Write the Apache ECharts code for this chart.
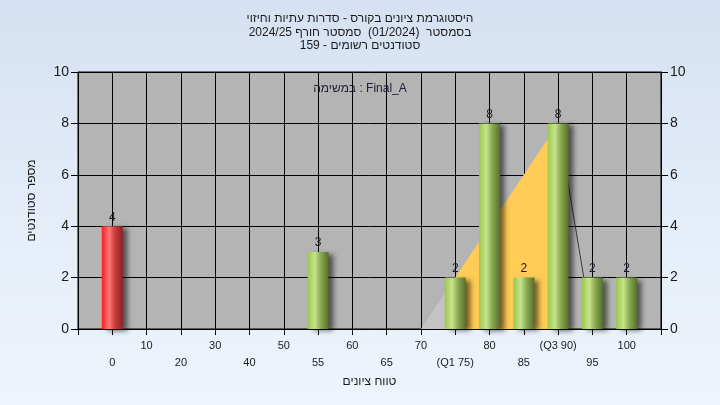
<!DOCTYPE html>
<html><head><meta charset="utf-8">
<script src="https://cdn.jsdelivr.net/npm/echarts@6/dist/echarts.min.js"></script>
<style>
html,body{margin:0;padding:0;width:720px;height:405px;overflow:hidden;}
body{background:linear-gradient(to bottom,#d5e1f2 0%,#e6eef9 60%,#edf4fc 100%);}
#c{width:720px;height:405px;}
</style></head>
<body><div id="c"></div>
<script>
// ---- data ----
var titleLines = ['היסטוגרמת ציונים בקורס - סדרות עתיות וחיזוי', 'בסמסטר  (01/2024)  סמסטר חורף 2024/25', 'סטודנטים רשומים - 159'];
var taskLabel = 'במשימה : Final_A';
var xAxisName = 'טווח ציונים';
var yAxisName = 'מספר סטודנטים';
var categories = ['', '0', '10', '20', '30', '40', '50', '55', '60', '65', '70', '(Q1 75)', '80', '85', '(Q3 90)', '95', '100', ''];
var counts =     [null, 4, null, null, null, null, null, 3, null, null, null, 2, 8, 2, 8, 2, 2, null];
var failing =    [false, true, true, true, true, true, true, false, false, false, false, false, false, false, false, false, false, false];
// distribution shape (grey rise, yellow inter-quartile part, falling edge)
var shapeLow  = [null, null, null, null, null, null, null, null, null, null, 0, 2, null, null, null, null, null, null];
var shapeIQR  = [null, null, null, null, null, null, null, null, null, null, null, 2, 4, 6, 8, null, null, null];
var shapeFall = [null, null, null, null, null, null, null, null, null, null, null, null, null, null, 8, 0, null, null];
var yTicks = {min: 0, max: 10, interval: 2};

var RLE = '\u202B', PDF = '\u202C';
function rtl(s){ return RLE + s + PDF; }

var greenGrad = new echarts.graphic.LinearGradient(0, 0, 1, 0, [
  {offset: 0, color: '#9cc84a'}, {offset: 0.35, color: '#c6e48e'}, {offset: 0.6, color: '#8fae55'}, {offset: 1, color: '#566f2c'}]);
var redGrad = new echarts.graphic.LinearGradient(0, 0, 1, 0, [
  {offset: 0, color: '#ff1a1a'}, {offset: 0.35, color: '#ff7a7a'}, {offset: 0.6, color: '#d04040'}, {offset: 1, color: '#8e2020'}]);

var barData = counts.map(function(v, i){
  return {value: v, itemStyle: {color: failing[i] ? redGrad : greenGrad}};
});

var textColor = '#1b1b1b';
var chart = echarts.init(document.getElementById('c'), null, {renderer: 'canvas'});
chart.setOption({
  backgroundColor: 'transparent',
  animation: false,
  title: [{
    text: titleLines.map(rtl).join('\n'),
    left: 'center', top: 7,
    textStyle: {fontFamily: 'Liberation Sans, Arial', fontSize: 12, fontWeight: 'normal', color: textColor, lineHeight: 13.5}
  }, {
    text: taskLabel,
    left: 'center', top: 78,
    textStyle: {fontFamily: 'Liberation Sans, Arial', fontSize: 12, fontWeight: 'normal', color: '#202038'}
  }],
  grid: {left: 78, right: 59, top: 72, bottom: 76, show: true, backgroundColor: '#b4b4b4', borderColor: '#000', borderWidth: 1},
  xAxis: {
    type: 'category', data: categories, boundaryGap: false,
    name: xAxisName, nameLocation: 'middle', nameGap: 46,
    nameTextStyle: {fontFamily: 'Liberation Sans, Arial', fontSize: 12, color: textColor},
    axisLine: {lineStyle: {color: '#000', width: 1}},
    axisTick: {show: true, interval: 0, length: 6, lineStyle: {color: '#000'}},
    axisLabel: {interval: 0, margin: 8, fontFamily: 'Liberation Sans, Arial', fontSize: 11, color: textColor, lineHeight: 17,
      formatter: function(v, i){ return (i % 2 === 1) ? '\n' + v : v; }},
    splitLine: {show: true, interval: 0, lineStyle: {color: '#000', width: 1}}
  },
  yAxis: [{
    type: 'value', min: yTicks.min, max: yTicks.max, interval: yTicks.interval, position: 'left',
    name: yAxisName, nameLocation: 'middle', nameGap: 40, nameRotate: 90,
    nameTextStyle: {fontFamily: 'Liberation Sans, Arial', fontSize: 12, color: textColor},
    axisLine: {show: true, lineStyle: {color: '#000'}},
    axisTick: {show: true, length: 7, lineStyle: {color: '#000'}},
    axisLabel: {fontFamily: 'Liberation Sans, Arial', fontSize: 14, color: textColor, margin: 9},
    splitLine: {show: true, lineStyle: {color: '#000', width: 1}}
  }, {
    type: 'value', min: yTicks.min, max: yTicks.max, interval: yTicks.interval, position: 'right',
    axisLine: {show: true, lineStyle: {color: '#000'}},
    axisTick: {show: true, length: 7, lineStyle: {color: '#000'}},
    axisLabel: {fontFamily: 'Liberation Sans, Arial', fontSize: 14, color: textColor, margin: 9},
    splitLine: {show: false}
  }],
  series: [{
    type: 'line', data: shapeLow, symbol: 'none', z: 1,
    lineStyle: {width: 0}, areaStyle: {color: '#c4c4c4', opacity: 1}
  }, {
    type: 'line', data: shapeIQR, symbol: 'none', z: 1,
    lineStyle: {width: 0}, areaStyle: {color: '#ffcc55', opacity: 1}
  }, {
    type: 'line', data: shapeFall, symbol: 'none', z: 1,
    lineStyle: {width: 1, color: '#3a3a3a'}
  }, {
    type: 'bar', data: barData, barWidth: 21, z: 3,
    itemStyle: {shadowColor: 'rgba(0,0,0,0.55)', shadowBlur: 5, shadowOffsetX: 5, shadowOffsetY: 2},
    label: {show: true, position: 'top', distance: 3, fontFamily: 'Liberation Sans, Arial', fontSize: 12, color: '#1a1a2e'}
  }]
});
</script>
</body></html>
